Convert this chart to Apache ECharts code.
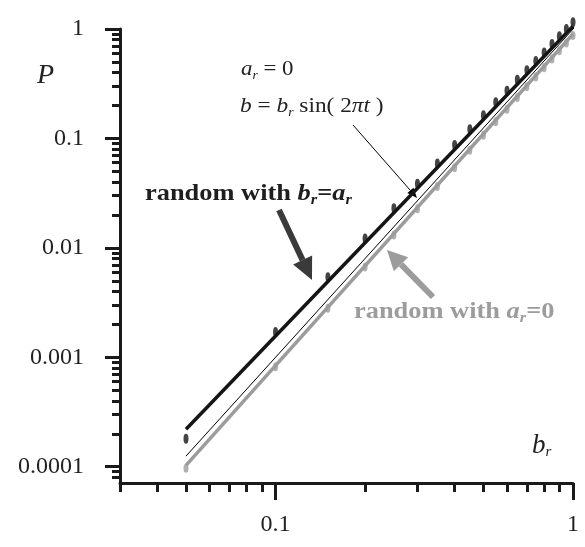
<!DOCTYPE html>
<html>
<head>
<meta charset="utf-8">
<script src="https://cdn.jsdelivr.net/npm/echarts@6/dist/echarts.min.js"></script>
<style>
  html, body { margin: 0; padding: 0; background: #fff; }
  #chart { width: 585px; height: 547px; }
</style>
</head>
<body>
<div id="chart"></div>
<script>
// b_r values of the simulated points
const bValues = [0.05, 0.1, 0.15, 0.2, 0.25, 0.3, 0.35, 0.4, 0.45, 0.5,
                 0.55, 0.6, 0.65, 0.7, 0.75, 0.8, 0.85, 0.9, 0.95, 1.0]
// random with b_r = a_r (black points)
const randomBrAr = [1.8e-4, 1.7e-3, 5.4e-3, 0.0122, 0.023, 0.0385, 0.059, 0.087, 0.121, 0.163,
                    0.214, 0.273, 0.344, 0.42, 0.51, 0.61, 0.73, 0.86, 1.0, 1.15]
// random with a_r = 0 (grey points)
const randomAr0 = [9.7e-5, 8.2e-4, 2.8e-3, 6.7e-3, 0.0131, 0.0228, 0.0363, 0.054, 0.078, 0.107,
                   0.142, 0.185, 0.236, 0.296, 0.365, 0.443, 0.533, 0.634, 0.746, 0.87]
// fitted lines (end points)
const fitBrArX = [0.05, 1], fitBrArY = [2.2e-4, 1.06]
const fitAr0X = [0.05, 1], fitAr0Y = [1.03e-4, 0.9]
// a_r = 0, b = b_r sin(2 pi t)
const sineX = [0.05, 1.03], sineY = [1.25e-4, 1.09]

// axis ticks
const xMajor = [0.1, 1]
const xTickLabels = ['0.1', '1']
const yMajor = [0.0001, 0.001, 0.01, 0.1, 1]
const yTickLabels = ['0.0001', '0.001', '0.01', '0.1', '1']
const xMinor = [0.03, 0.04, 0.05, 0.06, 0.07, 0.08, 0.09, 0.2, 0.3, 0.4, 0.5, 0.6, 0.7, 0.8, 0.9]
const yMinor = []
for (let e = -5; e <= -1; e++) {
  for (let k = 2; k <= 9; k++) yMinor.push(+(k * Math.pow(10, e)).toPrecision(3))
}

const axisColor = '#1a1a1a'
const black = '#151515'
const grey = '#9c9c9c'
const serif = '"Liberation Serif", "DejaVu Serif", serif'

const pairs = (xs, ys) => xs.map((x, i) => [x, ys[i]])
const pickLabel = (majors, labels) => v => {
  const i = majors.findIndex(t => Math.abs(Math.log10(t) - Math.log10(v)) < 1e-6)
  return i < 0 ? '' : labels[i]
}

// arrow helper for the annotations
const arrow = (x1, y1, x2, y2, w, headLen, headW, color) => {
  const dx = x2 - x1, dy = y2 - y1
  const len = Math.sqrt(dx * dx + dy * dy)
  const ux = dx / len, uy = dy / len
  const bx = x2 - ux * headLen, by = y2 - uy * headLen
  return [
    { type: 'line', shape: { x1: x1, y1: y1, x2: bx, y2: by }, style: { stroke: color, lineWidth: w } },
    { type: 'polygon', shape: { points: [[x2, y2], [bx - uy * headW / 2, by + ux * headW / 2], [bx + uy * headW / 2, by - ux * headW / 2]] },
      style: { fill: color } }
  ]
}

const richBase = {
  n: { fontFamily: serif, fontSize: 22, lineHeight: 25, fill: '#222' },
  i: { fontFamily: serif, fontSize: 22, lineHeight: 25, fontStyle: 'italic', fill: '#222' },
  s: { fontFamily: serif, fontSize: 13, lineHeight: 13, fontStyle: 'italic', fill: '#222', verticalAlign: 'bottom', padding: [4, 0, 0, 0] }
}
const richBold = (color) => ({
  b: { fontFamily: serif, fontSize: 24, lineHeight: 28, fontWeight: 'bold', fill: color },
  bi: { fontFamily: serif, fontSize: 24, lineHeight: 28, fontWeight: 'bold', fontStyle: 'italic', fill: color },
  s: { fontFamily: serif, fontSize: 15, lineHeight: 15, fontWeight: 'bold', fontStyle: 'italic', fill: color, verticalAlign: 'bottom', padding: [4, 0, 0, 0] }
})

const chart = echarts.init(document.getElementById('chart'))

const logX = {
  type: 'log', logBase: 10, min: 0.03, max: 1, position: 'bottom', splitLine: { show: false }
}
const logY = {
  type: 'log', logBase: 10, min: 7.1e-5, max: 1, position: 'left', splitLine: { show: false }
}

const option = {
  animation: false,
  grid: { left: 120, right: 12, top: 29, bottom: 64, containLabel: false, outerBoundsMode: 'none' },
  xAxis: [
    Object.assign({}, logX, {
      axisLine: { show: true, onZero: false, lineStyle: { color: axisColor, width: 3 } },
      axisTick: { show: true, length: 17, customValues: xMajor, lineStyle: { color: axisColor, width: 3 } },
      axisLabel: { customValues: xMajor, formatter: pickLabel(xMajor, xTickLabels), margin: 30,
                   fontFamily: serif, fontSize: 24, color: '#222' }
    }),
    Object.assign({}, logX, {
      axisLine: { show: false, onZero: false },
      axisTick: { show: true, length: 9, customValues: xMinor, lineStyle: { color: axisColor, width: 3 } },
      axisLabel: { show: false }
    })
  ],
  yAxis: [
    Object.assign({}, logY, {
      axisLine: { show: true, onZero: false, lineStyle: { color: axisColor, width: 3 } },
      axisTick: { show: true, length: 15, customValues: yMajor, lineStyle: { color: axisColor, width: 3 } },
      axisLabel: { customValues: yMajor, formatter: pickLabel(yMajor, yTickLabels), margin: 36,
                   fontFamily: serif, fontSize: 24, color: '#222' }
    }),
    Object.assign({}, logY, {
      axisLine: { show: false, onZero: false },
      axisTick: { show: true, length: 8, customValues: yMinor, lineStyle: { color: axisColor, width: 3 } },
      axisLabel: { show: false }
    })
  ],
  series: [
    {
      name: 'fit b_r=a_r', type: 'line', data: pairs(fitBrArX, fitBrArY), symbol: 'none', clip: false,
      lineStyle: { color: black, width: 3.5 }, z: 3
    },
    {
      name: 'fit a_r=0', type: 'line', data: pairs(fitAr0X, fitAr0Y), symbol: 'none', clip: false,
      lineStyle: { color: grey, width: 3.5 }, z: 3
    },
    {
      name: 'sine', type: 'line', data: pairs(sineX, sineY), symbol: 'none', clip: false,
      lineStyle: { color: '#000', width: 1 }, z: 4
    },
    {
      name: 'random with b_r=a_r', type: 'scatter', data: pairs(bValues, randomBrAr), clip: false,
      symbol: 'circle', symbolSize: [5, 10], itemStyle: { color: black }, z: 5
    },
    {
      name: 'random with a_r=0', type: 'scatter', data: pairs(bValues, randomAr0), clip: false,
      symbol: 'circle', symbolSize: [5, 9], itemStyle: { color: grey }, z: 5
    }
  ],
  graphic: [
    { type: 'text', x: 37, y: 62, style: { text: 'P', font: 'italic 28px ' + serif, fill: '#222' } },
    { type: 'text', x: 532, y: 432, style: { text: '{i|b}{s|r}', rich: { i: Object.assign({}, richBase.i, { fontSize: 27, lineHeight: 28 }), s: Object.assign({}, richBase.s, { fontSize: 15 }) } } },
    { type: 'text', x: 241, y: 57, scaleX: 1.04, style: { text: '{i|a}{s|r}{n| = 0}', rich: richBase } },
    { type: 'text', x: 240, y: 94, scaleX: 1.06, style: { text: '{i|b}{n| = }{i|b}{s|r}{n| sin( 2}{i|πt}{n| )}', rich: richBase } },
    { type: 'text', x: 145, y: 180, scaleX: 1.1, style: { text: '{b|random with }{bi|b}{s|r}{b|=}{bi|a}{s|r}', rich: richBold('#1e1e1e') } },
    { type: 'text', x: 354, y: 298, scaleX: 1.1, style: { text: '{b|random with }{bi|a}{s|r}{b|=0}', rich: richBold(grey) } }
  ]
    .concat(arrow(353, 125, 417, 198, 1, 10, 8, '#000'))
    .concat(arrow(279, 210, 312, 280, 6, 22, 21, '#3a3a3a'))
    .concat(arrow(433, 297, 387, 250, 6, 20, 20, grey))
}

chart.setOption(option)
</script>
</body>
</html>
